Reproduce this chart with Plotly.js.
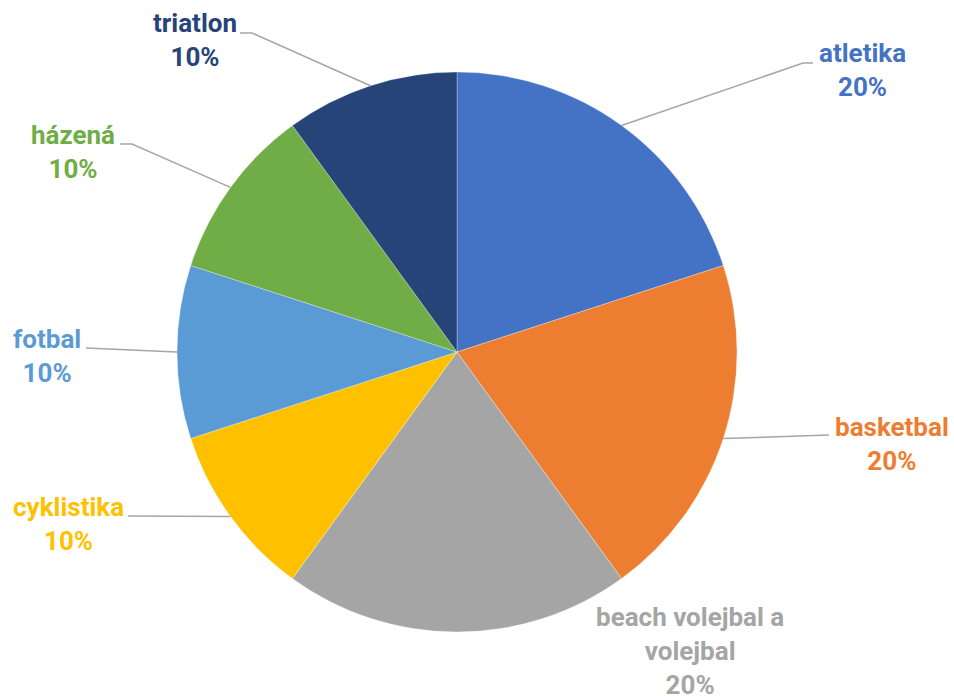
<!DOCTYPE html>
<html>
<head>
<meta charset="utf-8">
<script src="https://cdn.plot.ly/plotly-3.0.1.min.js"></script>
<style>html,body{margin:0;padding:0;background:#fff;}#chart{width:954px;height:696px;}</style>
</head>
<body>
<div id="chart"></div>
<script>
// ---- data ----
const categories = ["atletika", "basketbal", "beach volejbal a<br>volejbal", "cyklistika", "fotbal", "házená", "triatlon"];
const values = [20, 20, 20, 10, 10, 10, 10];
const colors = ["#4472C4", "#ED7D31", "#A5A5A5", "#FFC000", "#5B9BD5", "#70AD47", "#264478"];

// ---- layout config (pixel positions) ----
const W = 954, H = 696;
const cx = 457, cy = 352, R = 280;
// label text centers [x, y] and leader elbow/end points (null = no leader)
const labelCenter = [[862, 70], [892, 444], [690, 651], [68, 524], [47, 356], [73, 152], [195, 40]];
const leaderElbow = [[803, 63], [829, 435], null, [128, 516], [86, 348], [132, 144], [252, 33]];
const leaderEnd   = [[813, 63], [829, 435], null, [128, 516], [86, 348], [120, 144], [240, 33]];

const px = x => x / W;
const py = y => 1 - y / H;

const total = values.reduce((a, b) => a + b, 0);
const annotations = [];
const shapes = [];
let cum = 0;
values.forEach((v, i) => {
  const mid = (cum + v / 2) / total * 2 * Math.PI; // clockwise from top
  cum += v;
  const pct = Math.round(v / total * 100) + '%';
  annotations.push({
    xref: 'paper', yref: 'paper',
    x: px(labelCenter[i][0]), y: py(labelCenter[i][1]),
    xanchor: 'center', yanchor: 'middle',
    text: '<b>' + categories[i] + '<br>' + pct + '</b>',
    showarrow: false, align: 'center',
    font: {family: 'Roboto, sans-serif', size: 26, color: colors[i]}
  });
  if (leaderElbow[i]) {
    const ex = cx + R * Math.sin(mid), ey = cy - R * Math.cos(mid);
    const e = leaderElbow[i], t = leaderEnd[i];
    shapes.push({
      type: 'path', xref: 'paper', yref: 'paper',
      path: `M ${px(ex)} ${py(ey)} L ${px(e[0])} ${py(e[1])} L ${px(t[0])} ${py(t[1])}`,
      line: {color: '#A6A6A6', width: 1.5}
    });
  }
});

const data = [{
  type: 'pie',
  labels: categories,
  values: values,
  marker: {colors: colors, line: {color: '#ffffff', width: 0.3}},
  sort: false,
  direction: 'clockwise',
  rotation: 0,
  textinfo: 'none',
  hoverinfo: 'label+percent',
  domain: {x: [(cx - R) / W, (cx + R) / W], y: [(H - cy - R) / H, (H - cy + R) / H]}
}];

const layout = {
  width: W, height: H,
  margin: {l: 0, r: 0, t: 0, b: 0},
  showlegend: false,
  paper_bgcolor: '#ffffff',
  annotations: annotations,
  shapes: shapes
};

Plotly.newPlot('chart', data, layout, {displayModeBar: false, staticPlot: true});
</script>
</body>
</html>
